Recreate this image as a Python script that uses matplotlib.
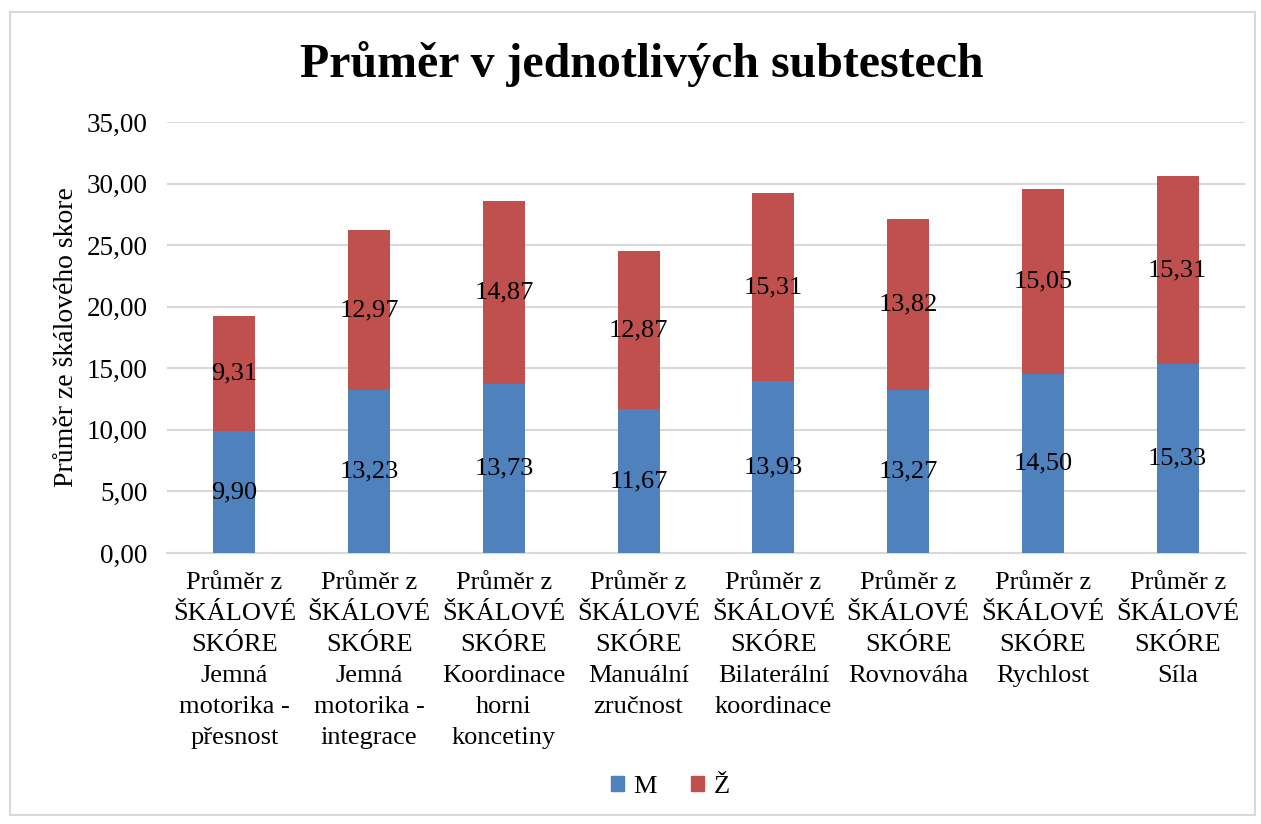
import matplotlib
matplotlib.use("Agg")
import matplotlib.pyplot as plt
from matplotlib.patches import Rectangle, Patch
import numpy as np

categories = [
    "Průměr z\nŠKÁLOVÉ\nSKÓRE\nJemná\nmotorika -\npřesnost",
    "Průměr z\nŠKÁLOVÉ\nSKÓRE\nJemná\nmotorika -\nintegrace",
    "Průměr z\nŠKÁLOVÉ\nSKÓRE\nKoordinace\nhorni\nkoncetiny",
    "Průměr z\nŠKÁLOVÉ\nSKÓRE\nManuální\nzručnost",
    "Průměr z\nŠKÁLOVÉ\nSKÓRE\nBilaterální\nkoordinace",
    "Průměr z\nŠKÁLOVÉ\nSKÓRE\nRovnováha",
    "Průměr z\nŠKÁLOVÉ\nSKÓRE\nRychlost",
    "Průměr z\nŠKÁLOVÉ\nSKÓRE\nSíla",
]
m_values = [9.90, 13.23, 13.73, 11.67, 13.93, 13.27, 14.50, 15.33]
z_values = [9.31, 12.97, 14.87, 12.87, 15.31, 13.82, 15.05, 15.31]
series_names = ["M", "Ž"]
yticks = [0, 5, 10, 15, 20, 25, 30, 35]

plt.rcParams['font.family'] = ['Liberation Serif', 'DejaVu Serif']

fig = plt.figure(figsize=(12.61, 8.24), dpi=100)
ax = fig.add_axes([167/1261, 1-553/824, (1245-167)/1261, (553-122)/824])

blue = "#4F81BD"
red = "#C0504D"
x = np.arange(len(categories))
w = 0.31
ax.bar(x, m_values, w, color=blue, label=series_names[0], zorder=3)
ax.bar(x, z_values, w, bottom=m_values, color=red, label=series_names[1], zorder=3)

fmt = lambda v: f"{v:.2f}".replace(".", ",")
for xi, mv, zv in zip(x, m_values, z_values):
    ax.text(xi, mv/2, fmt(mv), ha="center", va="center", fontsize=19, zorder=4)
    ax.text(xi, mv + zv/2, fmt(zv), ha="center", va="center", fontsize=19, zorder=4)

ax.set_xlim(-0.5, len(categories)-0.5)
ax.set_ylim(0, 35)
ax.set_yticks(yticks)
ax.set_yticklabels([fmt(v) for v in yticks], fontsize=19.5)
ax.yaxis.grid(True, color="#D9D9D9", linewidth=1.5, zorder=0)
ax.set_axisbelow(True)
for s in ["top", "right", "left"]:
    ax.spines[s].set_visible(False)
ax.spines["bottom"].set_color("#D9D9D9")
ax.spines["bottom"].set_linewidth(1.5)
ax.tick_params(axis="both", length=0)
ax.tick_params(axis="y", pad=14)
ax.set_xticks(x)
ax.set_xticklabels(categories, fontsize=19, linespacing=1.53, va="top")
ax.tick_params(axis="x", pad=14)
ax.set_ylabel("Průměr ze škálového skore", fontsize=20)
ax.yaxis.set_label_coords(-0.082, 0.5)

fig.text(642/1261, 1-64/824, "Průměr v jednotlivých subtestech", ha="center", va="center",
         fontsize=34.5, fontweight="bold")

fig.legend(handles=[Patch(color=blue, label="M"), Patch(color=red, label="Ž")],
           loc="center", bbox_to_anchor=(670/1261, 1-787/824), ncol=2, frameon=False,
           fontsize=19, handlelength=0.5, handleheight=0.5, columnspacing=1.3, handletextpad=0.35)

fig.patches.append(Rectangle((10/1261, 1-815/824), 1245/1261, 803/824, transform=fig.transFigure,
                             fill=False, edgecolor="#D9D9D9", linewidth=1.5))

fig.savefig("out.png", dpi=100, facecolor="white")
